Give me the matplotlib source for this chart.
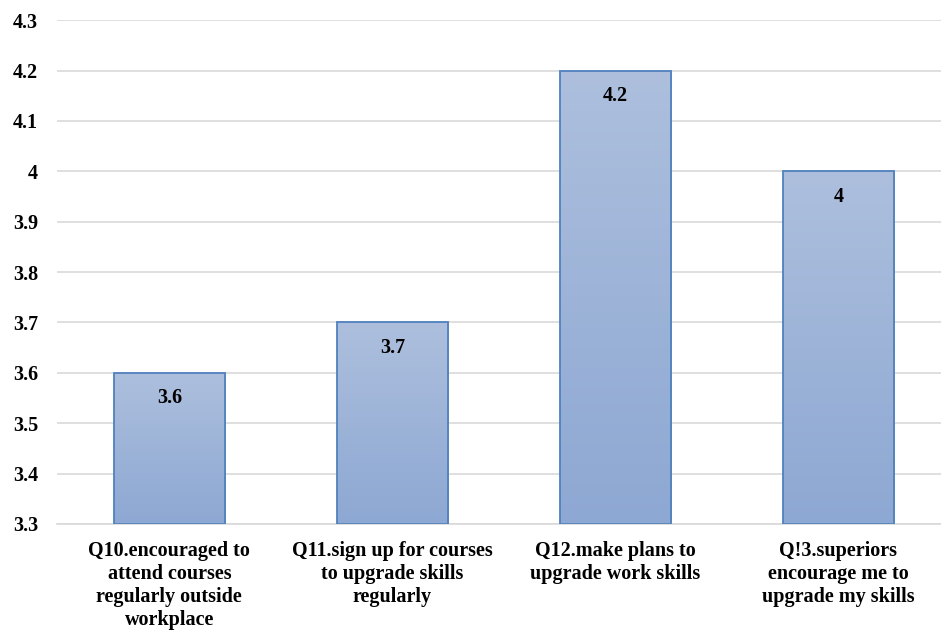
import matplotlib.pyplot as plt
import numpy as np
from matplotlib.colors import LinearSegmentedColormap

# questions and mean scores
labels = ['Q10.encouraged to\nattend courses\nregularly outside\nworkplace',
          'Q11.sign up for courses\nto upgrade skills\nregularly',
          'Q12.make plans to\nupgrade work skills',
          'Q!3.superiors\nencourage me to\nupgrade my skills']
scores = [3.6, 3.7, 4.2, 4.0]
score_text = ['3.6', '3.7', '4.2', '4']
yticks = [3.3, 3.4, 3.5, 3.6, 3.7, 3.8, 3.9, 4.0, 4.1, 4.2, 4.3]
ytick_text = ['3.3', '3.4', '3.5', '3.6', '3.7', '3.8', '3.9', '4', '4.1', '4.2', '4.3']

plt.rcParams['font.family'] = ['Liberation Serif', 'DejaVu Serif']
plt.rcParams['font.weight'] = 'bold'

fig = plt.figure(figsize=(9.41, 6.32), dpi=100)
ax = fig.add_axes([0.061, 0.171, 0.939, 0.797])

x = np.arange(len(scores))
bars = ax.bar(x, [s - 3.3 for s in scores], bottom=3.3, width=0.5,
              facecolor='none', edgecolor='#4F81BD', linewidth=1.3, zorder=3)

# gradient fill clipped to each bar
cmap = LinearSegmentedColormap.from_list('g', ['#8DA8D3', '#ADBFDD'])
grad = np.linspace(0, 1, 256).reshape(-1, 1)
for b in bars:
    x0, y0 = b.get_x(), b.get_y()
    im = ax.imshow(grad, cmap=cmap, aspect='auto', origin='lower',
                   extent=[x0, x0 + b.get_width(), y0, y0 + b.get_height()],
                   zorder=2)
    im.set_clip_path(b)

for xi, s, t in zip(x, scores, score_text):
    ax.text(xi, s - 0.05, t, ha='center', va='center', fontsize=14.5,
            fontweight='bold', zorder=4)

ax.set_xlim(-0.502, 3.46)
ax.set_ylim(3.3, 4.3)
ax.set_yticks(yticks)
ax.set_yticklabels(ytick_text, fontsize=14.5, fontweight='bold')
ax.set_xticks(x)
ax.set_xticklabels(labels, fontsize=14.5, fontweight='bold', linespacing=1.22)
ax.tick_params(length=0)
ax.tick_params(axis='y', pad=14)
ax.tick_params(axis='x', pad=12)
ax.yaxis.grid(True, color='#D9D9D9', linewidth=1.2, zorder=0)
ax.set_axisbelow(True)
for sp in ['top', 'right', 'left']:
    ax.spines[sp].set_visible(False)
ax.spines['bottom'].set_color('#D9D9D9')
ax.spines['bottom'].set_linewidth(1.2)

fig.savefig('out.png', dpi=100)
